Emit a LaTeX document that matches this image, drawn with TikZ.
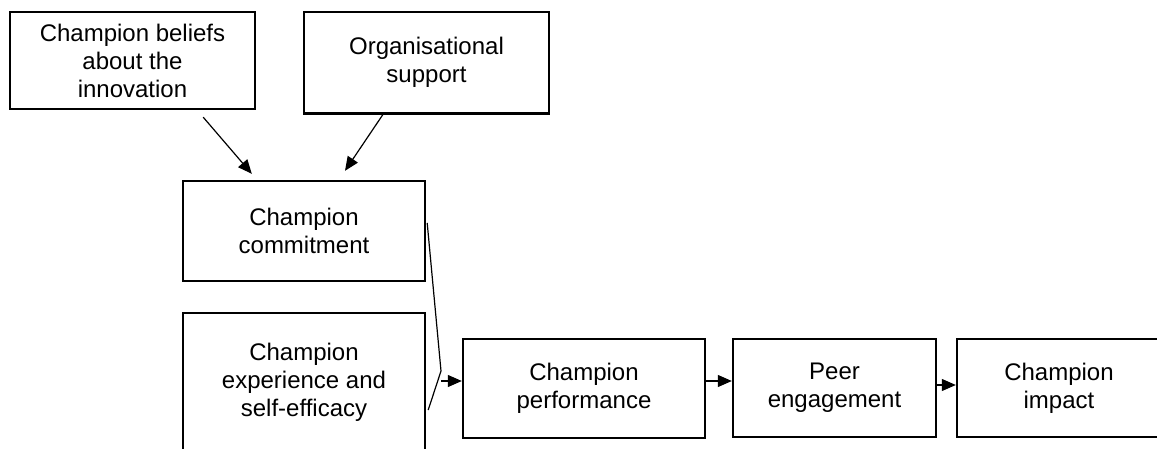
\documentclass[tikz,border=0pt]{standalone}
\usepackage{fontspec}
\setmainfont{Liberation Sans}
\usetikzlibrary{arrows.meta}

\begin{document}
\begin{tikzpicture}[x=0.5pt, y=-0.5pt, >={Triangle[length=7pt, width=6pt]},
    box/.style={draw, line width=1.2pt, align=center, inner sep=0pt,
                font=\fontsize{12}{14}\selectfont},
    link/.style={line width=0.6pt}]

    \useasboundingbox (0,0) rectangle (1157,449);

    % ── Top row: influences on commitment ────────────────────────────────────
    \node[box, minimum width=122.5pt, minimum height=48.5pt] (beliefs) at (132.5,60.5)
        {Champion beliefs\\about the\\innovation};
    \node[box, minimum width=122.5pt, minimum height=50.75pt] (support) at (426.5,62.75)
        {Organisational\\support};

    % ── Left column ──────────────────────────────────────────────────────────
    \node[box, minimum width=121pt, minimum height=50pt] (commit) at (304,231)
        {Champion\\commitment};
    \node[box, minimum width=121pt, minimum height=69pt] (exper) at (304,382)
        {Champion\\experience and\\self-efficacy};

    % ── Bottom row ───────────────────────────────────────────────────────────
    \node[box, minimum width=121pt, minimum height=49.5pt] (perform) at (584,388.5)
        {Champion\\performance};
    \node[box, minimum width=101.5pt, minimum height=49pt] (peer) at (834.5,388)
        {Peer\\engagement};
    \node[box, minimum width=102pt, minimum height=49pt] (impact) at (1059,388)
        {Champion\\impact};

    % ── Arrows into commitment ───────────────────────────────────────────────
    \draw[->, link] ([xshift=-26.5pt, yshift=-3.5pt]beliefs.south east)
        -- ([xshift=35pt, yshift=3pt]commit.north west);
    \draw[->, link] ([xshift=40pt]support.south west)
        -- ([xshift=20.5pt, yshift=4.5pt]commit.north);

    % ── Merge of commitment and experience ───────────────────────────────────
    \coordinate (join) at (441,371);
    \draw[link] ([xshift=0.5pt, yshift=4pt]commit.east) -- (join)
        -- ([xshift=1pt, yshift=-14pt]exper.east);
    \draw[->, link] ([yshift=-5pt]join) -- ([yshift=3.75pt]perform.west);

    % ── Chain along the bottom ───────────────────────────────────────────────
    \draw[->, link] ([yshift=3.75pt]perform.east) -- ([yshift=3.5pt]peer.west);
    \draw[->, link] ([yshift=1.5pt]peer.east) -- ([yshift=1.5pt]impact.west);

\end{tikzpicture}
\end{document}
